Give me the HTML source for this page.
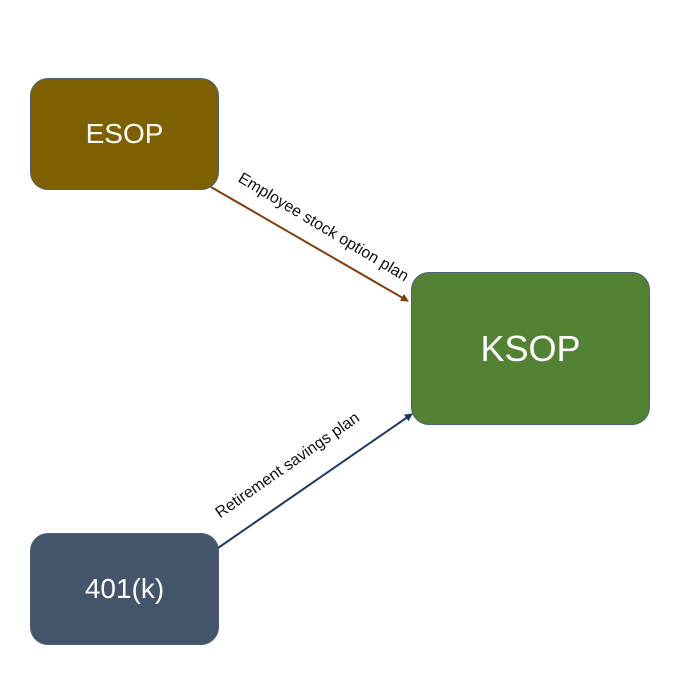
<!DOCTYPE html>
<html><head><style>
body{margin:0;background:#fff;width:699px;height:695px;overflow:hidden;font-family:"Liberation Sans",sans-serif}
.b{position:absolute;box-sizing:border-box;border:1.5px solid #506070;border-radius:18px;color:#fff;display:flex;align-items:center;justify-content:center}
.l{position:absolute;font-size:16px;color:#111;white-space:nowrap;transform-origin:center;text-align:center;height:20px;line-height:20px}
</style></head><body>
<div class="b" style="left:30px;top:78px;width:189px;height:112px;background:#7f6000;font-size:28px">ESOP</div>
<div class="b" style="left:411px;top:272px;width:239px;height:153px;background:#548235;font-size:36px">KSOP</div>
<div class="b" style="left:30px;top:533px;width:189px;height:112px;background:#44546a;font-size:28px">401(k)</div>
<svg width="699" height="695" style="position:absolute;left:0;top:0">
<defs>
<marker id="a1" markerWidth="8" markerHeight="8" refX="7" refY="4" orient="auto" markerUnits="userSpaceOnUse"><path d="M0,0 L8,4 L0,8z" fill="#843c0c"/></marker>
<marker id="a2" markerWidth="8" markerHeight="8" refX="7" refY="4" orient="auto" markerUnits="userSpaceOnUse"><path d="M0,0 L8,4 L0,8z" fill="#1f3864"/></marker>
</defs>
<line x1="211" y1="187" x2="408" y2="301" stroke="#843c0c" stroke-width="2" marker-end="url(#a1)"/>
<line x1="218" y1="548" x2="412" y2="414" stroke="#1f3864" stroke-width="2" marker-end="url(#a2)"/>
</svg>
<div class="l" style="left:213px;top:218px;width:220px;transform:rotate(31deg)">Employee stock option plan</div>
<div class="l" style="left:188px;top:456px;width:200px;transform:rotate(-35deg)">Retirement savings plan</div>
</body></html>
